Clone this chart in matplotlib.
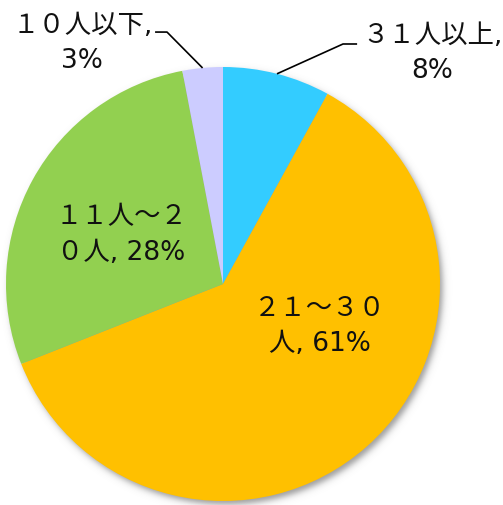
import numpy as np
import matplotlib.pyplot as plt

plt.rcParams['font.family'] = ['DejaVu Sans', 'Noto Sans CJK JP']

# データ（時計回り、上から）
categories = ['３１人以上', '２１～３０人', '１１人～２０人', '１０人以下']
percent = [8, 61, 28, 3]
colors = ['#33CCFF', '#FFC000', '#92D050', '#CCCCFF']
labels = ['３１人以上,\n8%', '２１～３０\n人, 61%', '１１人～２\n０人, 28%', '１０人以下,\n3%']

# ラベル位置（半径=1の座標系）と引き出し線
label_pos = [(0.965, 1.065), (0.447, -0.189), (-0.47, 0.23), (-0.648, 1.111)]
leader_elbow = [(0.553, 1.106), None, None, (-0.258, 1.161)]
leader_start = [(0.618, 1.106), None, None, (-0.313, 1.161)]

W, H = 503, 506
cx, cy, r = 223, 285, 217

fig = plt.figure(figsize=(W / 100, H / 100), dpi=100)
ax = fig.add_axes([0, 0, 1, 1])

wedges, _ = ax.pie(percent, colors=colors, startangle=90, counterclock=False,
                   radius=1, wedgeprops=dict(linewidth=0))
for w in wedges:
    w.set_zorder(3)

xlim = (-cx / r, (W - cx) / r)
ylim = (-(H - cy) / r, cy / r)
ax.set_xlim(*xlim)
ax.set_ylim(*ylim)
ax.set_aspect('equal')
ax.axis('off')

# ぼかした影（右下）
xs = np.linspace(xlim[0], xlim[1], W)
ys = np.linspace(ylim[0], ylim[1], H)
X, Y = np.meshgrid(xs, ys)
d = (np.hypot(X - 3 / r, Y + 4 / r) - 1) * r
a = 0.6 / (1 + np.exp(d / 2.0))
img = np.zeros((H, W, 4))
img[..., :3] = 0.35
img[..., 3] = a
ax.imshow(img, extent=(xlim[0], xlim[1], ylim[0], ylim[1]), origin='lower',
          zorder=1, interpolation='bilinear')

# ラベル
for i, lab in enumerate(labels):
    x, y = label_pos[i]
    ax.text(x, y, lab, ha='center', va='center', fontsize=19, color='#111111',
            linespacing=1.45, zorder=5)
    if leader_elbow[i] is not None:
        cum = sum(percent[:i]) + percent[i] / 2
        ang = np.deg2rad(90 - cum / sum(percent) * 360)
        ex, ey = np.cos(ang), np.sin(ang)
        sx, sy = leader_start[i]
        bx, by = leader_elbow[i]
        ax.plot([sx, bx, ex], [sy, by, ey], color='black', lw=1.2, zorder=4,
                solid_capstyle='butt')

fig.savefig('out.png', dpi=100)
